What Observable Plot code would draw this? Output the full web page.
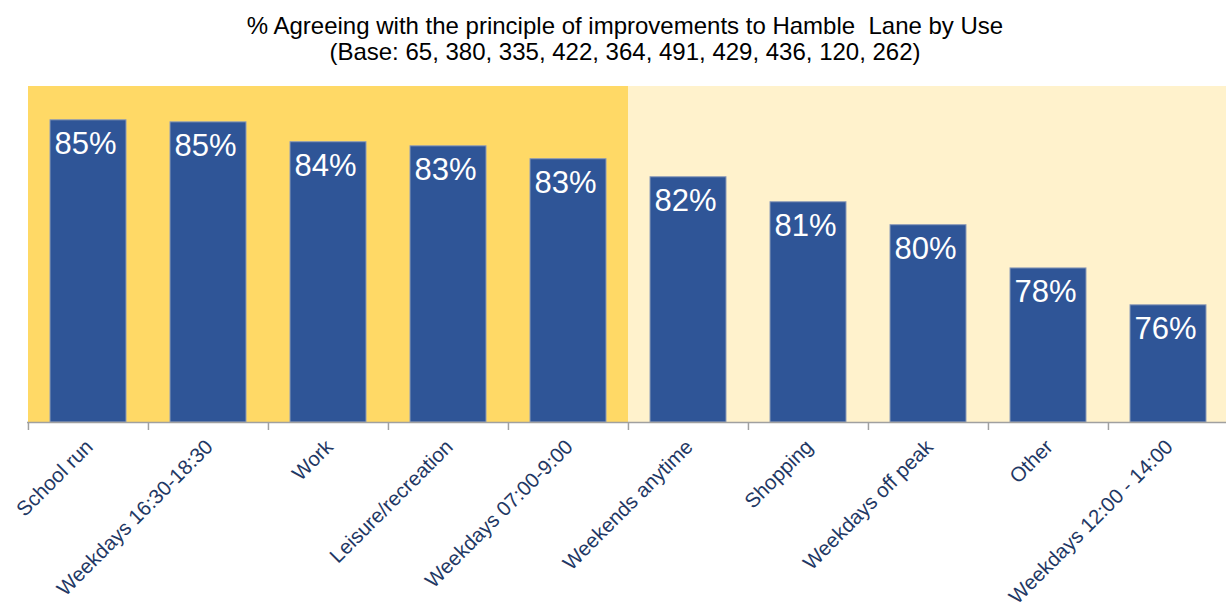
<!DOCTYPE html>
<html>
<head>
<meta charset="utf-8">
<script src="https://cdn.jsdelivr.net/npm/d3@7"></script>
<script src="https://cdn.jsdelivr.net/npm/@observablehq/plot@0.6"></script>
<style>
  html, body { margin: 0; padding: 0; background: #fff; }
  #title { width: 1226px; box-sizing: border-box; padding: 13px 0 0 24px; height: 66px;
    text-align: center; font-family: "Liberation Sans", Arial, sans-serif; font-size: 24px; line-height: 26px; color: #000; }
  #chart svg { display: block; }
</style>
</head>
<body>
<div id="title">% Agreeing with the principle of improvements to Hamble&nbsp; Lane by Use<br>(Base: 65, 380, 335, 422, 364, 491, 429, 436, 120, 262)</div>
<div id="chart"></div>
<script>
const categories = ["School run", "Weekdays 16:30-18:30", "Work", "Leisure/recreation", "Weekdays 07:00-9:00",
  "Weekends anytime", "Shopping", "Weekdays off peak", "Other", "Weekdays 12:00 - 14:00"];
const values = [84.75, 84.65, 83.68, 83.48, 82.85, 81.97, 80.75, 79.63, 77.52, 75.72];
const groups = ["A", "A", "A", "A", "A", "B", "B", "B", "B", "B"];

const yMin = 70, yMax = 86.4;
const data = categories.map((c, i) => ({cat: c, value: values[i], group: groups[i], label: Math.round(values[i]) + "%"}));

const chart = Plot.plot({
  width: 1226,
  height: 545,
  marginTop: 20,
  marginBottom: 189,
  marginLeft: 27,
  marginRight: 0,
  style: {fontFamily: "'Liberation Sans', Arial, sans-serif", background: "transparent"},
  x: {type: "band", domain: categories, range: [27, 1228], padding: 0, axis: null},
  y: {domain: [yMin, yMax], axis: null},
  color: {domain: ["A", "B"], range: ["#FFD966", "#FFF2CC"]},
  marks: [
    Plot.barY(data, {x: "cat", y1: yMin, y2: yMax, fill: "group"}),
    Plot.barY(data, {x: "cat", y1: yMin, y2: "value", fill: "#2F5597", stroke: "#8C9BB8", strokeWidth: 1, insetLeft: 22, insetRight: 22}),
    Plot.text(data, {x: "cat", y: "value", text: "label", fill: "#fff", fontSize: 31, lineAnchor: "top", dy: 12, dx: -3}),
    Plot.ruleY([yMin], {stroke: "#A0A0A0", strokeWidth: 1.5}),
    Plot.ruleX(data, {x: "cat", y1: yMin, y2: yMin, dx: -60.05, insetBottom: -8, stroke: "#A0A0A0", strokeWidth: 1.5}),
    Plot.text(data, {x: "cat", y: yMin, text: "cat", rotate: -45, textAnchor: "end", lineAnchor: "middle", fontSize: 20.5, fill: "#1F3864", dx: 1, dy: 21})
  ]
});
document.getElementById("chart").appendChild(chart);
</script>
</body>
</html>
